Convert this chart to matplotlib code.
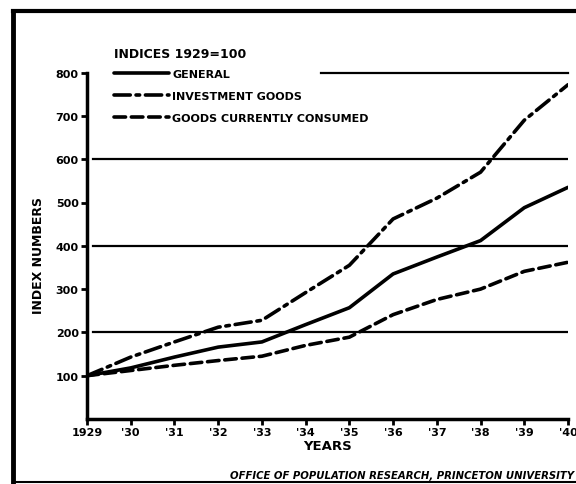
import numpy as np
import matplotlib
matplotlib.use("Agg")
import matplotlib.pyplot as plt
from matplotlib.lines import Line2D

# data (index, 1929 = 100)
years = [1929, 1930, 1931, 1932, 1933, 1934, 1935, 1936, 1937, 1938, 1939, 1940]
general = [100, 118, 143, 166, 178, 218, 257, 335, 374, 412, 488, 535]
investment = [100, 143, 178, 212, 228, 292, 355, 462, 510, 570, 690, 772]
consumed = [100, 112, 124, 135, 145, 170, 189, 241, 276, 300, 341, 362]

year_labels = ["1929", "'30", "'31", "'32", "'33", "'34", "'35", "'36", "'37", "'38", "'39", "'40"]
y_ticks = [100, 200, 300, 400, 500, 600, 700, 800]
grid_levels = [200, 400, 600]

plt.rcParams["font.family"] = ["DejaVu Sans"]
plt.rcParams["font.weight"] = "bold"

fig = plt.figure(figsize=(5.76, 4.85), dpi=100)
ax = fig.add_axes([87 / 576, 1 - 420 / 485, 481 / 576, (420 - 73.6) / 485])

# horizontal rules
for g in grid_levels:
    ax.axhline(g, xmin=0.012, color="black", lw=1.6, zorder=1)
ax.axhline(800, xmin=0.487, xmax=1.0, color="black", lw=1.6, zorder=1, clip_on=False)

lw = 2.6
ax.plot(years, general, color="black", lw=lw, solid_capstyle="round", label="GENERAL", zorder=3)
ax.plot(years, investment, color="black", lw=lw, dashes=(4.5, 1.6, 1.0, 1.6),
        dash_capstyle="round", label="INVESTMENT GOODS", zorder=3)
ax.plot(years, consumed, color="black", lw=lw, dashes=(3.2, 1.6),
        dash_capstyle="round", label="GOODS CURRENTLY CONSUMED", zorder=3)

ax.set_xlim(1929, 1940)
ax.set_ylim(0, 800)
ax.set_xticks(years)
ax.set_xticklabels(year_labels)
ax.set_yticks(y_ticks)
ax.tick_params(axis="both", labelsize=8, width=2, length=4, direction="out", pad=2)
for sp in ["top", "right"]:
    ax.spines[sp].set_visible(False)
for sp in ["left", "bottom"]:
    ax.spines[sp].set_linewidth(2.5)

ax.set_xlabel("YEARS", fontsize=9.5, fontweight="bold", labelpad=1)
fig.text(38 / 576, 1 - 255 / 485, "INDEX NUMBERS", rotation=90, fontsize=9,
         fontweight="bold", ha="center", va="center")

leg = ax.legend(loc="upper left", bbox_to_anchor=(23 / 481, 1.088), frameon=False,
                title="INDICES 1929=100", fontsize=8, handlelength=4.9,
                handletextpad=0.3, labelspacing=1.05, borderaxespad=0)
leg.get_title().set_fontsize(9)
leg.get_title().set_fontweight("bold")
leg._legend_box.align = "left"
leg._legend_box.sep = 7

fig.text(0.997, 1 - 476 / 485, "OFFICE OF POPULATION RESEARCH, PRINCETON UNIVERSITY",
         fontsize=7.3, fontstyle="italic", fontweight="bold", ha="right", va="center")

# outer frame of the plate
fig.add_artist(Line2D([13 / 576, 13 / 576], [1 - 483 / 485, 1 - 12 / 485],
                      transform=fig.transFigure, color="black", lw=3.5))
fig.add_artist(Line2D([13 / 576, 1.0], [1 - 12 / 485, 1 - 12 / 485],
                      transform=fig.transFigure, color="black", lw=3))
fig.add_artist(Line2D([13 / 576, 1.0], [1 - 483 / 485, 1 - 483 / 485],
                      transform=fig.transFigure, color="black", lw=1.5))

fig.savefig("out.png", dpi=100)
